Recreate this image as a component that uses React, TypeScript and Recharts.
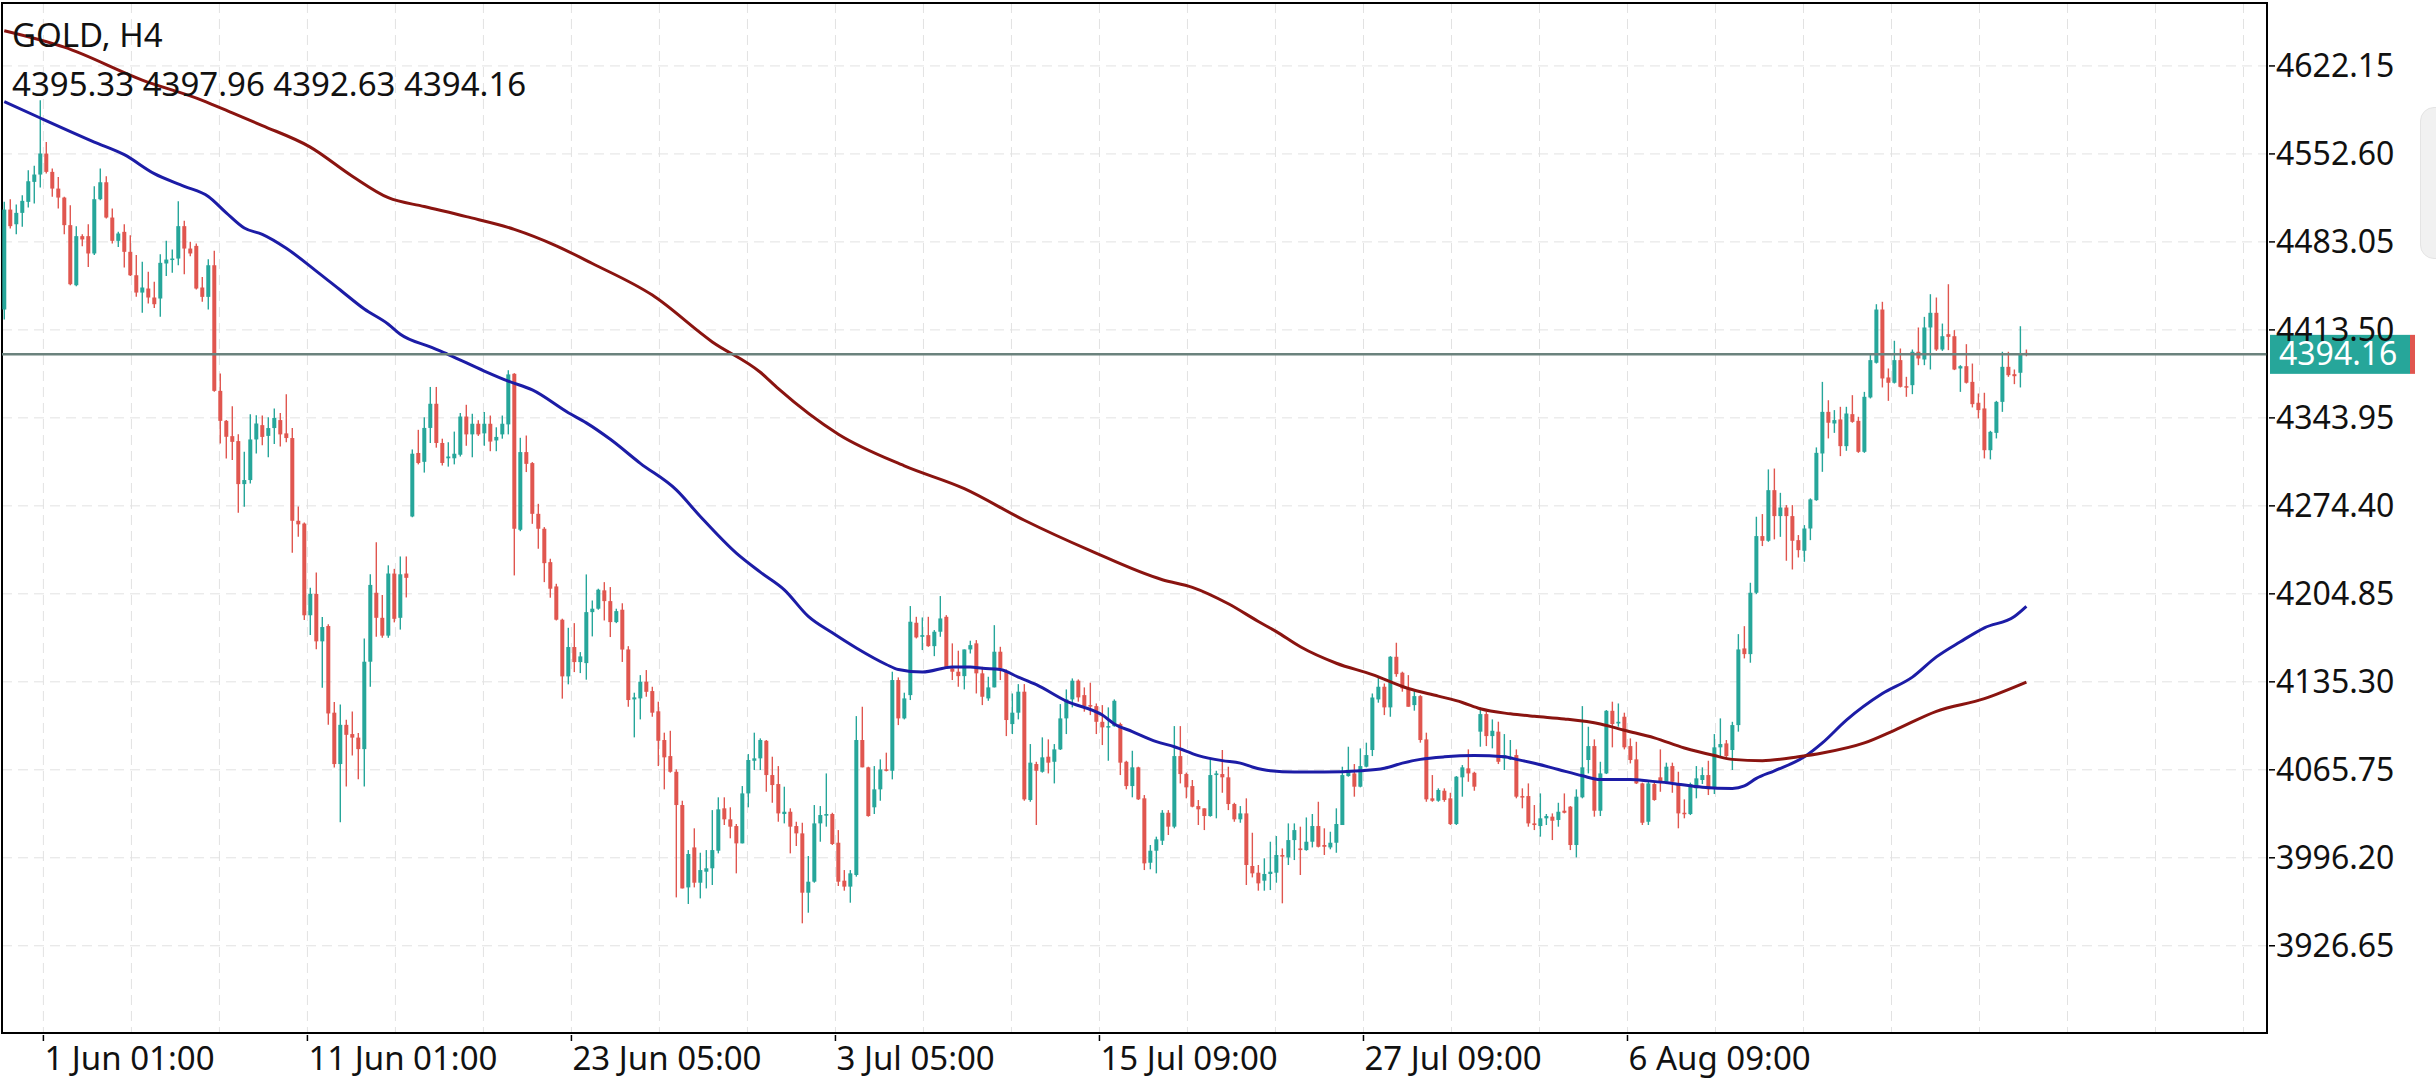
import React from 'react';
import {
  ComposedChart,
  Bar,
  Line,
  XAxis,
  YAxis,
  CartesianGrid,
  ReferenceLine,
  ReferenceArea,
} from 'recharts';

// GOLD H4 candles (index 0 = leftmost candle)
const opens = [
  4429.6, 4508.6, 4497.0, 4506.0, 4514.7, 4530.5, 4536.3, 4552.9, 4538.4, 4525.2,
  4518.1, 4496.3, 4448.8, 4487.6, 4487.6, 4473.9, 4516.8, 4530.2, 4502.3, 4483.9,
  4491.0, 4475.2, 4456.7, 4443.0, 4446.2, 4439.1, 4438.3, 4466.0, 4469.1, 4469.9,
  4495.5, 4477.8, 4479.9, 4447.0, 4439.6, 4464.6, 4365.3, 4341.6, 4329.5, 4325.6,
  4291.6, 4294.8, 4326.9, 4338.2, 4329.7, 4335.9, 4342.2, 4331.7, 4328.0, 4262.6,
  4260.4, 4187.9, 4204.8, 4167.3, 4179.4, 4110.9, 4070.3, 4101.3, 4094.0, 4091.2,
  4082.1, 4151.2, 4205.7, 4185.9, 4171.8, 4220.9, 4185.9, 4220.9, 4266.0, 4316.2,
  4309.2, 4336.0, 4355.1, 4324.1, 4312.0, 4312.0, 4314.8, 4345.0, 4330.9, 4339.3,
  4331.7, 4339.3, 4326.1, 4330.9, 4338.8, 4378.8, 4255.5, 4316.9, 4308.2, 4268.1,
  4256.3, 4229.9, 4210.7, 4184.4, 4139.6, 4162.8, 4150.9, 4150.1, 4190.4, 4193.1,
  4207.6, 4199.1, 4182.5, 4192.3, 4160.9, 4121.4, 4122.2, 4135.4, 4128.0, 4112.0,
  4089.3, 4076.6, 4064.2, 4037.9, 3972.8, 4004.4, 3976.5, 3985.2, 3987.9, 4001.8,
  4035.3, 4026.6, 4021.3, 4007.6, 4047.1, 4072.9, 4074.8, 4088.7, 4061.6, 4054.5,
  4030.8, 4032.6, 4021.3, 4015.5, 3968.6, 3977.3, 4023.4, 4029.5, 4030.8, 4008.1,
  3978.1, 3973.4, 3982.6, 4089.3, 4067.7, 4036.1, 4050.3, 4066.1, 4065.0, 4136.7,
  4106.4, 4124.8, 4182.0, 4170.9, 4172.2, 4163.5, 4174.9, 4186.7, 4145.9, 4143.3,
  4139.8, 4160.9, 4165.7, 4142.0, 4122.2, 4130.9, 4159.1, 4143.3, 4101.9, 4110.9,
  4127.5, 4041.9, 4070.3, 4064.2, 4076.1, 4072.1, 4081.9, 4106.4, 4121.4, 4136.2,
  4124.8, 4116.9, 4116.1, 4103.7, 4099.3, 4100.3, 4101.9, 4072.1, 4052.9, 4067.7,
  4043.2, 3992.3, 4001.8, 4009.7, 4031.8, 4020.8, 4076.6, 4062.4, 4052.9, 4037.1,
  4035.3, 4029.2, 4061.6, 4062.4, 4059.8, 4038.7, 4026.6, 4031.3, 3989.7, 3984.4,
  3978.1, 3983.4, 3984.4, 3998.4, 3996.5, 4010.2, 4003.6, 4002.3, 4008.9, 4021.3,
  4006.3, 4004.4, 4008.1, 4022.1, 4060.8, 4062.9, 4052.4, 4068.2, 4081.4, 4121.4,
  4131.4, 4115.1, 4155.1, 4142.5, 4130.1, 4116.9, 4124.0, 4089.8, 4043.2, 4041.3,
  4049.2, 4043.2, 4022.9, 4059.8, 4066.9, 4063.4, 4095.9, 4109.8, 4092.4, 4095.9,
  4074.8, 4074.0, 4077.4, 4045.0, 4045.0, 4023.4, 4021.3, 4027.4, 4028.7, 4026.1,
  4033.4, 4036.6, 4006.3, 4044.0, 4073.5, 4084.5, 4033.4, 4062.9, 4112.4, 4102.4,
  4107.7, 4084.5, 4074.0, 4055.0, 4024.7, 4054.5, 4059.8, 4056.3, 4068.7, 4054.5,
  4031.8, 4030.8, 4051.1, 4057.7, 4061.6, 4051.1, 4083.5, 4086.6, 4081.4, 4101.1,
  4161.7, 4157.2, 4205.7, 4250.5, 4246.8, 4286.8, 4266.3, 4273.1, 4266.3, 4247.3,
  4238.9, 4256.5, 4278.9, 4315.8, 4348.7, 4339.5, 4342.7, 4321.6, 4346.9, 4341.6,
  4317.1, 4360.1, 4387.5, 4429.6, 4375.9, 4371.7, 4389.6, 4369.0, 4369.8, 4396.2,
  4390.1, 4415.4, 4427.0, 4398.0, 4410.1, 4408.5, 4383.0, 4384.8, 4372.4, 4355.9,
  4351.4, 4318.4, 4332.1, 4356.6, 4384.3, 4378.5, 4379.6, 4395.33,
];

const highs = [
  4514.7, 4516.8, 4512.6, 4520.0, 4539.7, 4543.2, 4595.0, 4562.1, 4541.0, 4534.4,
  4518.7, 4512.1, 4495.5, 4489.1, 4497.0, 4527.1, 4541.0, 4535.0, 4509.4, 4491.0,
  4497.0, 4488.4, 4472.6, 4467.3, 4459.4, 4451.5, 4473.3, 4483.9, 4477.0, 4515.2,
  4499.7, 4483.1, 4481.8, 4455.4, 4469.4, 4476.0, 4379.0, 4342.2, 4353.2, 4331.1,
  4317.1, 4346.9, 4346.1, 4345.8, 4344.4, 4351.4, 4347.8, 4362.7, 4335.9, 4273.9,
  4261.2, 4209.6, 4221.7, 4186.5, 4180.9, 4119.4, 4117.4, 4105.3, 4111.8, 4094.8,
  4169.6, 4220.3, 4245.7, 4204.0, 4227.4, 4224.6, 4234.4, 4234.4, 4319.0, 4334.5,
  4344.4, 4368.4, 4368.4, 4327.5, 4324.7, 4333.1, 4347.8, 4354.3, 4347.2, 4342.1,
  4348.6, 4345.8, 4336.5, 4345.8, 4381.6, 4379.3, 4328.2, 4330.0, 4309.0, 4276.0,
  4257.6, 4232.6, 4212.8, 4185.2, 4178.0, 4181.7, 4158.8, 4220.2, 4199.6, 4208.9,
  4214.1, 4210.2, 4193.1, 4197.4, 4163.5, 4126.7, 4140.6, 4144.6, 4131.4, 4119.6,
  4095.1, 4096.6, 4066.1, 4041.3, 4002.3, 4019.5, 4000.2, 4002.3, 4033.9, 4044.0,
  4044.0, 4036.1, 4022.9, 4052.9, 4078.2, 4095.1, 4090.6, 4089.3, 4076.1, 4068.7,
  4052.4, 4035.3, 4024.7, 4023.9, 3997.6, 4037.9, 4037.1, 4062.9, 4031.8, 4018.1,
  3986.5, 3986.5, 4108.2, 4115.6, 4068.2, 4068.7, 4074.0, 4079.3, 4143.3, 4138.8,
  4126.7, 4195.2, 4186.7, 4186.2, 4186.7, 4176.2, 4203.1, 4188.0, 4165.7, 4159.9,
  4160.9, 4167.8, 4168.3, 4147.2, 4139.3, 4180.1, 4163.0, 4145.1, 4126.1, 4133.5,
  4133.5, 4086.1, 4072.1, 4091.4, 4089.8, 4086.1, 4117.7, 4129.3, 4138.0, 4137.2,
  4130.9, 4134.6, 4118.2, 4116.9, 4115.1, 4121.4, 4103.0, 4072.9, 4080.8, 4068.2,
  4045.8, 4006.3, 4012.9, 4033.9, 4033.9, 4100.3, 4100.3, 4063.5, 4057.7, 4041.9,
  4035.3, 4074.0, 4065.0, 4081.4, 4068.2, 4039.7, 4037.1, 4043.2, 4016.0, 3990.5,
  3995.8, 4008.9, 4013.4, 4003.6, 4023.4, 4023.4, 4020.8, 4028.1, 4030.8, 4040.5,
  4019.5, 4016.8, 4035.3, 4068.2, 4084.0, 4070.3, 4082.7, 4087.2, 4126.1, 4139.3,
  4134.0, 4155.6, 4166.2, 4143.3, 4140.6, 4128.8, 4124.8, 4095.1, 4061.6, 4051.1,
  4051.1, 4047.6, 4060.8, 4069.5, 4081.9, 4064.2, 4115.1, 4111.6, 4105.6, 4103.8,
  4094.0, 4089.3, 4081.9, 4051.1, 4055.0, 4037.9, 4047.1, 4030.8, 4031.3, 4039.7,
  4047.1, 4037.1, 4050.3, 4116.1, 4099.8, 4089.8, 4072.1, 4113.0, 4119.6, 4118.2,
  4110.9, 4090.6, 4087.9, 4055.6, 4056.3, 4056.3, 4081.9, 4071.4, 4071.4, 4064.2,
  4042.4, 4055.6, 4068.7, 4067.7, 4072.9, 4094.0, 4106.4, 4089.3, 4103.7, 4173.0,
  4179.3, 4213.6, 4265.8, 4267.9, 4303.2, 4303.9, 4284.7, 4275.0, 4275.0, 4251.3,
  4259.2, 4280.3, 4320.6, 4372.4, 4357.9, 4350.1, 4352.7, 4352.7, 4361.9, 4344.8,
  4364.5, 4394.8, 4433.8, 4435.7, 4383.0, 4404.9, 4398.8, 4376.4, 4398.0, 4415.4,
  4423.8, 4441.7, 4439.1, 4418.5, 4449.6, 4413.3, 4385.6, 4402.2, 4386.9, 4363.2,
  4363.8, 4333.7, 4357.4, 4396.2, 4396.2, 4382.2, 4416.4, 4397.96,
];

const lows = [
  4421.7, 4493.6, 4489.1, 4495.0, 4510.2, 4513.4, 4526.0, 4537.1, 4518.7, 4509.4,
  4489.1, 4448.8, 4448.0, 4479.7, 4463.3, 4472.6, 4516.0, 4501.5, 4481.8, 4479.1,
  4462.8, 4456.0, 4439.6, 4427.0, 4434.4, 4430.9, 4423.8, 4456.0, 4458.6, 4464.6,
  4457.5, 4471.8, 4445.4, 4435.7, 4429.6, 4364.5, 4323.7, 4311.9, 4310.6, 4269.0,
  4273.7, 4292.1, 4315.8, 4322.4, 4312.8, 4323.3, 4321.3, 4324.7, 4237.3, 4249.9,
  4184.2, 4172.4, 4161.1, 4130.6, 4101.3, 4067.5, 4024.3, 4052.5, 4077.1, 4058.2,
  4052.5, 4131.5, 4171.0, 4170.1, 4170.1, 4182.3, 4176.6, 4202.0, 4265.4, 4307.2,
  4300.7, 4324.1, 4320.4, 4306.3, 4305.4, 4307.2, 4313.4, 4321.9, 4312.8, 4329.7,
  4321.9, 4317.6, 4317.6, 4327.5, 4330.9, 4219.4, 4254.4, 4301.1, 4260.2, 4240.5,
  4214.1, 4201.8, 4183.8, 4122.0, 4133.3, 4143.0, 4142.2, 4137.0, 4171.2, 4192.3,
  4183.8, 4170.7, 4181.7, 4151.0, 4115.6, 4091.4, 4105.6, 4123.5, 4107.7, 4068.7,
  4050.3, 4063.5, 3964.9, 3972.0, 3959.7, 3972.8, 3964.1, 3972.0, 3974.7, 3999.7,
  4022.1, 4011.6, 3983.9, 4007.6, 4036.1, 4065.6, 4065.6, 4048.4, 4039.7, 4024.7,
  4023.4, 3999.7, 4005.5, 3944.4, 3952.8, 3976.5, 4008.9, 4020.8, 4006.3, 3973.9,
  3970.2, 3960.7, 3981.3, 4067.7, 4028.7, 4030.8, 4041.3, 4064.5, 4058.2, 4101.1,
  4105.6, 4120.9, 4169.6, 4160.4, 4163.0, 4155.6, 4170.9, 4145.9, 4136.7, 4131.4,
  4129.3, 4157.7, 4126.1, 4116.9, 4120.3, 4130.9, 4136.7, 4092.4, 4094.0, 4105.6,
  4041.3, 4040.5, 4022.1, 4063.5, 4062.9, 4055.0, 4081.4, 4094.0, 4115.1, 4119.6,
  4111.7, 4109.0, 4094.0, 4085.3, 4072.9, 4099.8, 4061.6, 4050.3, 4044.0, 4041.9,
  3986.5, 3987.1, 3983.9, 4006.3, 4014.2, 4019.5, 4055.0, 4043.2, 4036.1, 4022.1,
  4018.1, 4028.7, 4027.4, 4047.6, 4033.9, 4024.7, 4023.9, 3974.7, 3980.7, 3970.2,
  3970.2, 3970.7, 3976.5, 3960.2, 3990.5, 3994.4, 3982.6, 4001.8, 4004.4, 4004.4,
  3998.4, 4002.9, 4000.2, 4022.1, 4060.3, 4044.5, 4051.9, 4067.7, 4076.6, 4118.8,
  4109.0, 4107.7, 4139.3, 4127.5, 4115.6, 4112.5, 4087.2, 4040.5, 4040.5, 4040.5,
  4040.5, 4022.1, 4022.1, 4044.5, 4056.3, 4049.2, 4084.0, 4084.5, 4082.7, 4070.3,
  4065.6, 4073.5, 4043.2, 4035.3, 4020.8, 4018.1, 4012.9, 4022.1, 4010.2, 4020.8,
  4031.3, 4002.3, 3996.5, 4043.2, 4062.9, 4028.7, 4029.2, 4062.4, 4083.5, 4099.8,
  4081.9, 4070.8, 4054.5, 4022.1, 4022.1, 4041.3, 4048.4, 4054.5, 4047.6, 4019.5,
  4027.4, 4030.0, 4043.2, 4054.5, 4045.8, 4046.6, 4076.1, 4075.6, 4065.6, 4095.9,
  4153.8, 4150.4, 4204.6, 4242.6, 4246.0, 4247.9, 4249.9, 4231.0, 4224.1, 4233.6,
  4230.2, 4247.3, 4278.4, 4301.3, 4327.7, 4332.1, 4313.7, 4317.9, 4340.1, 4316.3,
  4316.3, 4359.3, 4386.9, 4368.0, 4357.4, 4371.1, 4368.0, 4360.6, 4362.7, 4385.6,
  4385.6, 4382.2, 4396.9, 4396.9, 4397.5, 4381.7, 4364.5, 4371.1, 4352.2, 4343.5,
  4311.9, 4311.1, 4327.7, 4348.7, 4376.4, 4370.6, 4368.0, 4392.63,
];

const closes = [
  4508.6, 4495.5, 4506.0, 4515.5, 4531.0, 4536.3, 4552.9, 4538.4, 4525.2, 4518.1,
  4496.3, 4449.6, 4487.6, 4485.0, 4473.9, 4516.8, 4530.2, 4502.3, 4483.9, 4489.7,
  4475.2, 4456.7, 4443.0, 4447.0, 4439.1, 4433.8, 4466.5, 4469.1, 4469.9, 4495.5,
  4477.8, 4473.9, 4446.2, 4439.6, 4464.6, 4365.3, 4341.6, 4329.0, 4325.0, 4291.6,
  4294.8, 4326.9, 4339.5, 4328.9, 4335.9, 4343.9, 4330.9, 4328.0, 4262.6, 4259.8,
  4187.9, 4204.8, 4167.3, 4178.6, 4110.3, 4070.3, 4101.3, 4093.4, 4091.2, 4082.1,
  4151.2, 4211.9, 4185.9, 4171.8, 4220.9, 4185.1, 4220.3, 4217.5, 4315.6, 4308.3,
  4336.0, 4355.1, 4324.1, 4308.3, 4313.4, 4315.6, 4345.0, 4330.9, 4339.3, 4330.9,
  4339.3, 4325.2, 4328.9, 4339.3, 4378.3, 4256.3, 4316.9, 4307.6, 4268.1, 4256.3,
  4229.1, 4208.9, 4184.4, 4139.6, 4162.8, 4150.9, 4155.4, 4190.4, 4193.1, 4208.1,
  4199.1, 4182.5, 4191.2, 4160.8, 4120.9, 4123.0, 4135.4, 4127.4, 4110.9, 4088.7,
  4075.6, 4064.2, 4037.9, 3972.0, 3999.2, 3976.5, 3986.5, 3987.9, 4002.3, 4034.5,
  4026.6, 4020.8, 4007.6, 4047.1, 4073.5, 4074.8, 4089.3, 4061.6, 4053.7, 4031.3,
  4032.6, 4020.8, 4015.5, 3968.6, 3977.3, 4023.4, 4030.0, 4030.8, 4007.1, 3977.3,
  3973.4, 3983.9, 4089.3, 4067.7, 4029.2, 4050.3, 4066.1, 4065.0, 4136.7, 4106.4,
  4122.2, 4182.8, 4170.4, 4172.2, 4163.5, 4174.9, 4185.4, 4145.9, 4143.3, 4139.8,
  4160.9, 4164.3, 4142.0, 4123.5, 4130.9, 4159.1, 4145.9, 4105.1, 4110.9, 4127.5,
  4042.4, 4071.4, 4065.0, 4075.6, 4071.4, 4081.9, 4106.4, 4121.4, 4136.2, 4123.0,
  4116.1, 4116.1, 4103.7, 4099.3, 4100.3, 4120.3, 4071.4, 4052.9, 4067.7, 4042.4,
  3991.8, 4001.8, 4010.8, 4031.8, 4020.8, 4076.6, 4062.4, 4051.9, 4036.6, 4034.5,
  4029.2, 4061.6, 4062.9, 4059.8, 4038.7, 4026.6, 4031.3, 3990.5, 3983.9, 3976.0,
  3983.4, 3985.2, 3998.4, 3997.1, 4010.2, 4018.1, 4002.3, 4008.9, 4021.3, 4004.9,
  4004.9, 4008.1, 4022.9, 4061.6, 4064.2, 4052.4, 4068.7, 4077.4, 4122.9, 4131.4,
  4115.1, 4155.1, 4141.4, 4130.1, 4115.6, 4124.0, 4089.3, 4042.4, 4041.3, 4049.8,
  4041.9, 4022.9, 4060.3, 4067.7, 4062.9, 4052.4, 4109.8, 4092.4, 4096.6, 4072.1,
  4077.4, 4076.1, 4044.5, 4044.5, 4023.4, 4022.1, 4027.4, 4029.2, 4025.5, 4032.6,
  4031.8, 4006.3, 4044.5, 4067.7, 4084.5, 4033.4, 4062.9, 4112.4, 4101.9, 4103.7,
  4083.5, 4073.5, 4055.0, 4023.9, 4055.0, 4041.9, 4056.3, 4068.2, 4056.3, 4031.3,
  4030.8, 4054.5, 4059.0, 4061.6, 4050.3, 4083.5, 4086.1, 4076.6, 4101.1, 4160.9,
  4157.2, 4205.7, 4250.5, 4246.8, 4286.8, 4266.3, 4273.1, 4266.3, 4246.8, 4239.4,
  4256.5, 4279.5, 4316.3, 4348.7, 4340.1, 4342.2, 4321.6, 4347.4, 4340.8, 4317.1,
  4360.6, 4389.6, 4429.6, 4375.1, 4371.7, 4389.6, 4368.5, 4368.0, 4396.2, 4390.9,
  4415.4, 4427.0, 4398.0, 4408.5, 4408.0, 4382.2, 4384.8, 4371.7, 4354.8, 4350.1,
  4318.4, 4332.9, 4356.6, 4384.3, 4377.7, 4376.9, 4394.8, 4394.16,
];

// moving averages sampled along the drawn curves: [candle index, value]
const fastMa = [
  [0, 4594], [6, 4581], [15, 4562], [20, 4552], [25, 4537], [30, 4527], [34, 4519],
  [37, 4506], [40, 4494], [43, 4489], [47, 4478], [52, 4460], [56, 4445], [60, 4430],
  [64, 4418], [66, 4410], [71, 4400], [74, 4394], [80, 4381], [84, 4373], [88, 4366],
  [94, 4348], [97, 4340], [101, 4327], [106, 4308], [112, 4287], [116, 4266], [122, 4237],
  [126, 4222], [130, 4208], [134, 4187], [138, 4174], [142, 4162], [147, 4149], [149, 4145],
  [153, 4143], [158, 4147], [161, 4147], [163, 4146], [166, 4145], [169, 4139], [172, 4133],
  [177, 4120], [183, 4109], [185, 4102], [188, 4096], [192, 4088], [195, 4084], [199, 4077],
  [203, 4073], [206, 4071], [208, 4068], [211, 4065], [215, 4064], [220, 4064], [226, 4065],
  [230, 4067], [233, 4071], [236, 4074], [240, 4076], [245, 4077], [250, 4076], [252, 4074],
  [255, 4071], [259, 4066], [263, 4061], [266, 4058], [271, 4058], [274, 4057], [278, 4055],
  [283, 4052], [288, 4051], [290, 4053], [292, 4059], [295, 4065], [300, 4076], [303, 4087],
  [307, 4105], [313, 4126], [318, 4139], [322, 4155], [326, 4167], [330, 4178], [335, 4187],
  [337, 4195],
];

const slowMa = [
  [0, 4650], [10, 4637], [23, 4611], [33, 4595], [38, 4585], [43, 4575], [51, 4558],
  [58, 4535], [64, 4518], [70, 4511], [77, 4503], [85, 4493], [92, 4480], [98, 4466],
  [108, 4441], [118, 4404], [126, 4380], [129, 4367], [139, 4331], [150, 4306], [160, 4288],
  [170, 4263], [181, 4239], [193, 4216], [198, 4210], [204, 4197], [209, 4183], [212, 4175],
  [216, 4163], [222, 4150], [228, 4141], [234, 4130], [239, 4124], [243, 4119], [246, 4114],
  [251, 4110], [255, 4108], [260, 4106], [266, 4102], [270, 4097], [275, 4091], [280, 4083],
  [285, 4077], [288, 4074], [293, 4073], [299, 4076], [303, 4079], [310, 4087], [315, 4097],
  [322, 4112], [330, 4122], [337, 4135],
];

const priceTicks = [3926.65, 3996.2, 4065.75, 4135.3, 4204.85, 4274.4, 4343.95, 4413.5, 4483.05, 4552.6, 4622.15];
const timeTicks = [6.52, 50.52, 94.52, 138.52, 182.52, 226.52, 270.52];
const timeLabels = ['1 Jun 01:00', '11 Jun 01:00', '23 Jun 05:00', '3 Jul 05:00', '15 Jul 09:00', '27 Jul 09:00', '6 Aug 09:00'];
const lastPrice = 4394.16;
const header = ['GOLD, H4', '4395.33 4397.96 4392.63 4394.16'];

const X_MIN = -0.38;
const X_MAX = 377.1;
const Y_MIN = 3857.7;
const Y_MAX = 4671.9;

const UP = '#26a69a';
const DOWN = '#e0564f';
const FONT = '"Noto Sans", "Open Sans", sans-serif';

// dashed vertical grid: three per time-label step
const gridCols = Array.from({ length: 26 }, (_, k) => timeTicks[0] + (k * 44) / 3);

const fastMap = new Map(fastMa.map(([i, v]) => [i, v]));
const slowMap = new Map(slowMa.map(([i, v]) => [i, v]));

const data = opens.map((o, i) => ({
  i,
  o,
  h: highs[i],
  l: lows[i],
  c: closes[i],
  range: [lows[i], highs[i]],
  fast: fastMap.has(i) ? fastMap.get(i) : null,
  slow: slowMap.has(i) ? slowMap.get(i) : null,
}));

const Candle = (props: any) => {
  const { x, y, width, height, payload } = props;
  if (!payload || x == null) return null;
  const { o, h, l, c } = payload;
  const top = height < 0 ? y + height : y;
  const hh = Math.abs(height);
  const span = h - l || 1;
  const yOf = (v: number) => top + ((h - v) / span) * hh;
  const color = c >= o ? UP : DOWN;
  const bTop = yOf(Math.max(o, c));
  const bBot = yOf(Math.min(o, c));
  const cx = x + width / 2;
  return (
    <g>
      <line x1={cx} x2={cx} y1={top} y2={top + hh} stroke={color} strokeWidth={1.4} />
      <rect x={x} y={bTop} width={width} height={Math.max(bBot - bTop, 1.5)} fill={color} />
    </g>
  );
};

const TimeTick = (props: any) => {
  const { x, y, payload } = props;
  const k = timeTicks.indexOf(payload.value);
  return (
    <g>
      <line x1={x} x2={x} y1={y} y2={y + 6} stroke="#000" strokeWidth={1.5} />
      <text x={x + 1} y={y + 35} fontSize={33} fontFamily={FONT} fill="#111">
        {timeLabels[k]}
      </text>
    </g>
  );
};

const PriceTick = (props: any) => {
  const { x, y, payload } = props;
  return (
    <g>
      <line x1={x} x2={x + 6} y1={y} y2={y} stroke="#000" strokeWidth={1.5} />
      <text x={x + 7} y={y + 11} fontSize={32} fontFamily={FONT} fill="#111">
        {payload.value.toFixed(2)}
      </text>
    </g>
  );
};

const PriceTag = (props: any) => {
  const vb = props.viewBox || {};
  const left = vb.x + vb.width + 3;
  return (
    <g>
      <rect x={left} y={vb.y - 19.5} width={140} height={39} fill={UP} />
      <rect x={left + 140} y={vb.y - 19.5} width={5} height={39} fill={DOWN} />
      <text x={left + 9} y={vb.y + 11} fontSize={32} fontFamily={FONT} fill="#fff">
        {lastPrice.toFixed(2)}
      </text>
    </g>
  );
};

export default function App() {
  return (
    <div style={{ position: 'absolute', left: 0, top: 0, width: 2436, height: 1080, background: '#fff', overflow: 'hidden' }}>
      <ComposedChart width={2436} height={1080} data={data} margin={{ top: 3, right: 0, bottom: 0, left: 2 }}>
        <CartesianGrid stroke="#e2e2e2" strokeDasharray="10 6" verticalValues={gridCols} />
        <XAxis
          dataKey="i"
          type="number"
          domain={[X_MIN, X_MAX]}
          allowDataOverflow
          ticks={timeTicks}
          interval={0}
          tick={<TimeTick />}
          tickLine={false}
          tickSize={0}
          height={47}
          axisLine={{ stroke: '#000', strokeWidth: 1.5 }}
        />
        <YAxis
          orientation="right"
          type="number"
          domain={[Y_MIN, Y_MAX]}
          allowDataOverflow
          ticks={priceTicks}
          interval={0}
          tick={<PriceTick />}
          tickLine={false}
          tickSize={0}
          width={169}
          axisLine={{ stroke: '#000', strokeWidth: 1.5 }}
        />
        <ReferenceArea x1={X_MIN} x2={X_MAX} y1={Y_MIN} y2={Y_MAX} fill="none" stroke="#000" strokeWidth={2} />
        <Bar dataKey="range" barSize={4} shape={<Candle />} isAnimationActive={false} />
        <Line dataKey="fast" type="monotone" stroke="#1c1ca6" strokeWidth={3} dot={false} connectNulls isAnimationActive={false} />
        <Line dataKey="slow" type="monotone" stroke="#8a1410" strokeWidth={3} dot={false} connectNulls isAnimationActive={false} />
        <ReferenceLine y={lastPrice} stroke="#6b827d" strokeWidth={2.5} label={<PriceTag />} />
      </ComposedChart>
      <div style={{ position: 'absolute', left: 12, top: 10, fontFamily: FONT, fontSize: 33, lineHeight: '49px', color: '#111' }}>
        <div>{header[0]}</div>
        <div>{header[1]}</div>
      </div>
      <div style={{ position: 'absolute', left: 2420, top: 107, width: 40, height: 150, background: '#f1f1f1', border: '1px solid #e4e4e4', borderRadius: 14 }} />
    </div>
  );
}
